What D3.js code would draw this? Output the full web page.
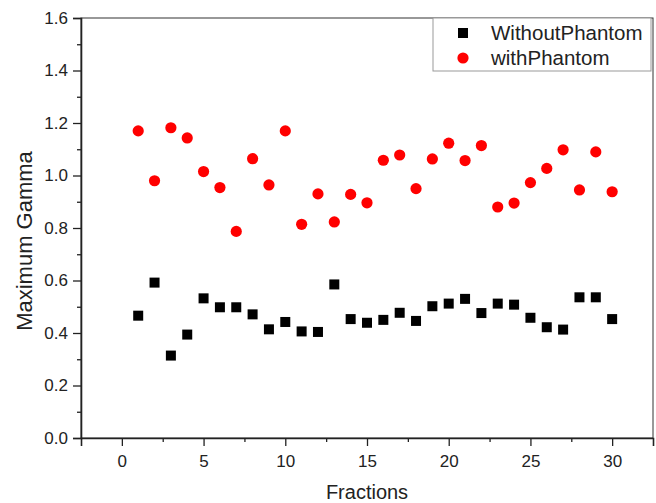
<!DOCTYPE html>
<html>
<head>
<meta charset="utf-8">
<script src="https://cdn.jsdelivr.net/npm/d3@7"></script>
<style>
  body { margin: 0; background: #fff; }
  text { font-family: "Liberation Sans", Arial, sans-serif; }
</style>
</head>
<body>
<div id="chart"></div>
<script>
// fraction numbers 1..30
var fractions = [1,2,3,4,5,6,7,8,9,10,11,12,13,14,15,16,17,18,19,20,21,22,23,24,25,26,27,28,29,30];

var withoutPhantom = [0.466,0.592,0.314,0.394,0.532,0.498,0.498,0.471,0.414,0.442,
                      0.406,0.404,0.585,0.453,0.439,0.450,0.477,0.446,0.502,0.512,
                      0.530,0.476,0.512,0.508,0.458,0.422,0.413,0.536,0.536,0.453];

var withPhantom = [1.170,0.980,1.182,1.143,1.015,0.954,0.787,1.064,0.964,1.170,
                   0.814,0.930,0.823,0.928,0.896,1.058,1.078,0.950,1.063,1.123,
                   1.057,1.114,0.880,0.895,0.973,1.027,1.098,0.945,1.090,0.938];

var xTicks = [0,5,10,15,20,25,30];
var yTicks = [0,0.2,0.4,0.6,0.8,1.0,1.2,1.4,1.6];
var seriesNames = ["WithoutPhantom","withPhantom"];

var W = 656, H = 503;
var margin = {top: 18, right: 3, bottom: 65, left: 81},
    width = W - margin.left - margin.right,
    height = H - margin.top - margin.bottom;

var svg = d3.select("#chart")
  .append("svg")
  .attr("width", W)
  .attr("height", H)
  .append("g")
  .attr("transform", "translate(" + margin.left + "," + margin.top + ")");

var x = d3.scaleLinear().domain([-2.5, 32.5]).range([0, width]);
var y = d3.scaleLinear().domain([0, 1.6]).range([height, 0]);

// frame (top/right thin)
svg.append("rect")
  .attr("width", width).attr("height", height)
  .attr("fill", "none").attr("stroke", "#333").attr("stroke-width", 1);

// minor ticks
var xMinor = d3.range(2.5, 32.5, 5);
var yMinor = d3.range(0.1, 1.6, 0.2);

svg.append("g")
  .attr("transform", "translate(0," + height + ")")
  .call(d3.axisBottom(x).tickValues(xTicks).tickSize(8).tickPadding(9).tickFormat(d3.format("d")));
svg.append("g")
  .attr("transform", "translate(0," + height + ")")
  .call(d3.axisBottom(x).tickValues(xMinor).tickSize(4).tickFormat(""))
  .select(".domain").remove();

svg.append("g")
  .call(d3.axisLeft(y).tickValues(yTicks).tickSize(8).tickPadding(5).tickFormat(d3.format(".1f")));
svg.append("g")
  .call(d3.axisLeft(y).tickValues(yMinor).tickSize(4).tickFormat(""))
  .select(".domain").remove();

svg.selectAll(".domain").attr("stroke", "#222").attr("stroke-width", 1.6);
svg.selectAll(".tick line").attr("stroke", "#222").attr("stroke-width", 1.3);
svg.selectAll(".tick text").attr("font-size", 17).attr("fill", "#222")
  .style("font-family", "'Liberation Sans', Arial, sans-serif");

// axis titles
svg.append("text")
  .attr("x", width / 2).attr("y", height + 61)
  .attr("text-anchor", "middle")
  .attr("font-size", 20).attr("fill", "#222")
  .text("Fractions");

svg.append("text")
  .attr("transform", "translate(" + (32 - margin.left) + "," + (241 - margin.top) + ") rotate(-90)")
  .attr("text-anchor", "middle")
  .attr("font-size", 22).attr("fill", "#222")
  .text("Maximum Gamma");

// points
var sq = 10;
svg.append("g").selectAll("rect")
  .data(fractions)
  .enter().append("rect")
  .attr("x", function(d, i) { return x(d) - sq / 2; })
  .attr("y", function(d, i) { return y(withoutPhantom[i]) - sq / 2; })
  .attr("width", sq).attr("height", sq)
  .attr("fill", "#000");

svg.append("g").selectAll("circle")
  .data(fractions)
  .enter().append("circle")
  .attr("cx", function(d) { return x(d); })
  .attr("cy", function(d, i) { return y(withPhantom[i]); })
  .attr("r", 5.6)
  .attr("fill", "#ff0000");

// legend
var lg = svg.append("g").attr("transform", "translate(" + (433 - margin.left) + ",0)");
lg.append("rect")
  .attr("width", 218).attr("height", 53)
  .attr("fill", "#fff").attr("stroke", "#999").attr("stroke-width", 1);
lg.append("rect")
  .attr("x", 30 - sq / 2).attr("y", 15 - sq / 2)
  .attr("width", sq).attr("height", sq).attr("fill", "#000");
lg.append("circle")
  .attr("cx", 30).attr("cy", 40).attr("r", 5.6).attr("fill", "#ff0000");
lg.selectAll("text.lbl")
  .data(seriesNames)
  .enter().append("text")
  .attr("class", "lbl")
  .attr("x", 58)
  .attr("y", function(d, i) { return 21.5 + i * 25; })
  .attr("font-size", 20.5).attr("fill", "#222")
  .text(function(d) { return d; });
</script>
</body>
</html>
